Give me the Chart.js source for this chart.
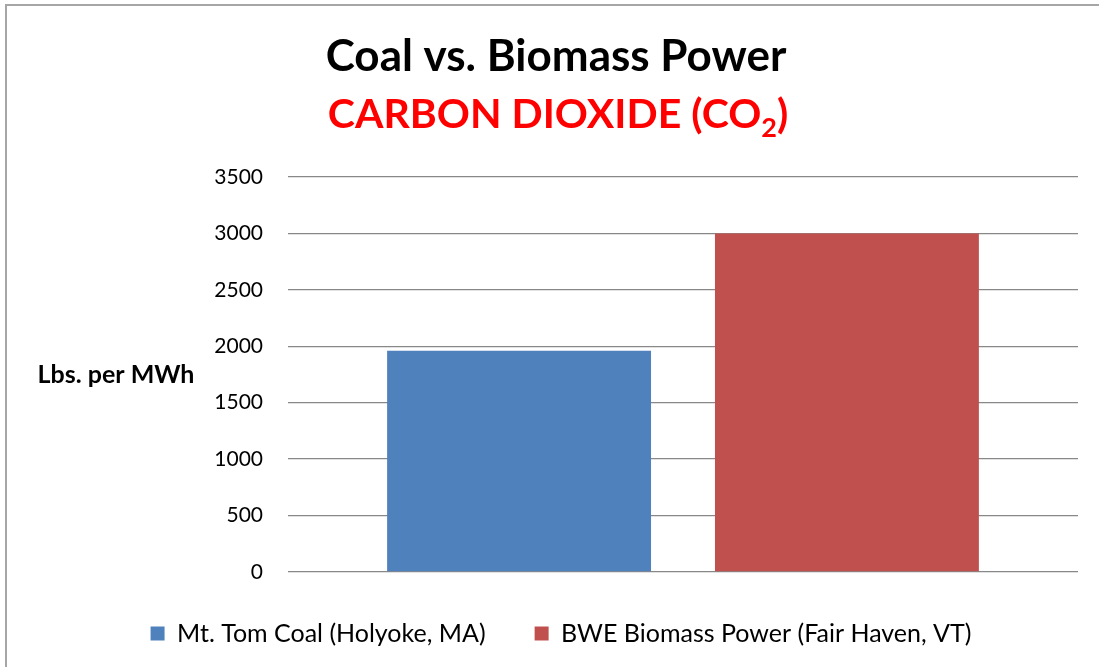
<!DOCTYPE html>
<html>
<head>
<meta charset="utf-8">
<script src="https://cdn.jsdelivr.net/npm/chart.js@4"></script>
<style>
  html, body { margin: 0; padding: 0; background: #fff; overflow: hidden; }
  canvas { display: block; }
</style>
</head>
<body>
<canvas id="grafico" width="1099" height="667"></canvas>
<script>
const categorias = [""];
const series = ["Mt. Tom Coal (Holyoke, MA)", "BWE Biomass Power (Fair Haven, VT)"];
const valores = [1960, 3000];
const cores = ["#4F81BD", "#C0504D"];
const yMin = 0, yMax = 3500, yPasso = 500;
const tituloLinha1 = "Coal vs. Biomass Power";
const tituloLinha2 = ["CARBON DIOXIDE (CO", "2", ")"];
const tituloEixoY = "Lbs. per MWh";

const fonte = "Lato, 'Open Sans', sans-serif";

// moldura cinza (so esquerda e topo aparecem no recorte)
const moldura = {
  id: "moldura",
  beforeDraw(chart) {
    const ctx = chart.ctx;
    ctx.save();
    ctx.strokeStyle = "#a6a6a6";
    ctx.lineWidth = 2;
    ctx.beginPath();
    ctx.moveTo(6, chart.height);
    ctx.lineTo(6, 5);
    ctx.lineTo(chart.width, 5);
    ctx.stroke();
    ctx.restore();
  }
};

// titulo com subscrito e rotulo horizontal do eixo y
const textosExtras = {
  id: "textosExtras",
  afterDraw(chart) {
    const ctx = chart.ctx;
    const area = chart.chartArea;
    ctx.save();
    ctx.textBaseline = "middle";

    ctx.fillStyle = "#000";
    ctx.font = "bold 44px " + fonte;
    ctx.textAlign = "center";
    ctx.fillText(tituloLinha1, 556, 57);

    ctx.fillStyle = "#FF0000";
    const grande = "bold 41px " + fonte, pequeno = "bold 27px " + fonte;
    ctx.font = grande;
    const w1 = ctx.measureText(tituloLinha2[0]).width;
    const w3 = ctx.measureText(tituloLinha2[2]).width;
    ctx.font = pequeno;
    const w2 = ctx.measureText(tituloLinha2[1]).width;
    let x = 558 - (w1 + w2 + w3) / 2;
    ctx.textAlign = "left";
    ctx.font = grande;
    ctx.fillText(tituloLinha2[0], x, 115);
    x += w1;
    ctx.font = pequeno;
    ctx.fillText(tituloLinha2[1], x, 128);
    x += w2;
    ctx.font = grande;
    ctx.fillText(tituloLinha2[2], x, 115);

    ctx.fillStyle = "#000";
    ctx.font = "bold 25px " + fonte;
    ctx.textAlign = "center";
    ctx.fillText(tituloEixoY, 116, (area.top + area.bottom) / 2);
    ctx.restore();
  }
};

const ctx = document.getElementById("grafico").getContext("2d");
new Chart(ctx, {
  type: "bar",
  data: {
    labels: categorias,
    datasets: series.map((nome, i) => ({
      label: nome,
      data: [valores[i]],
      backgroundColor: cores[i],
      borderWidth: 0,
      categoryPercentage: 0.83,
      barPercentage: 0.805
    }))
  },
  options: {
    responsive: false,
    animation: false,
    layout: { padding: { top: 177, right: 21, bottom: 11, left: 44 } },
    plugins: {
      title: { display: false },
      tooltip: { enabled: false },
      legend: {
        position: "bottom",
        labels: {
          font: { family: fonte, size: 25 },
          color: "#000",
          boxWidth: 14,
          boxHeight: 14,
          padding: 49
        }
      }
    },
    scales: {
      x: {
        ticks: { display: false },
        grid: { display: false },
        border: { display: false },
        afterFit(scale) { scale.height = 0; }
      },
      y: {
        min: yMin,
        max: yMax,
        ticks: {
          stepSize: yPasso,
          color: "#000",
          font: { family: fonte, size: 21 },
          padding: 25,
          callback: (v) => String(v)
        },
        grid: { color: "#888", lineWidth: 1.3, drawTicks: false },
        border: { display: false },
        afterFit(scale) { scale.width = 244; }
      }
    }
  },
  plugins: [moldura, textosExtras]
});
</script>
</body>
</html>
